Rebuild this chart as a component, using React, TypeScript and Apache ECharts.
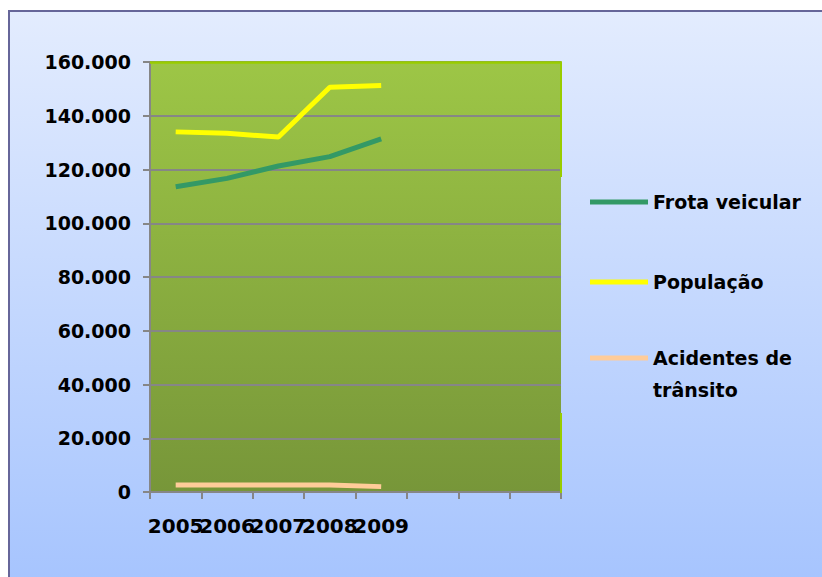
import React, { useEffect, useRef } from "react";
import * as echarts from "echarts";

const categories = ["2005", "2006", "2007", "2008", "2009", "", "", ""];
const frotaVeicular = [113600, 116700, 121300, 124800, 131400];
const populacao = [134000, 133450, 132100, 150600, 151300];
const acidentes = [2600, 2650, 2650, 2600, 2000];
const yTicks = { min: 0, max: 160000, interval: 20000 };

const FONT = "DejaVu Sans";

export default function App() {
  const ref = useRef<HTMLDivElement>(null);
  useEffect(() => {
    document.body.style.margin = "0";
    const chart = echarts.init(ref.current!, null, { renderer: "svg" });
    const lineLegend = (name: string, top: number, formatter?: any) => ({
      orient: "vertical",
      left: 590,
      top,
      padding: 0,
      data: [name],
      icon: "rect",
      itemWidth: 58,
      itemHeight: 5,
      itemGap: 0,
      textStyle: { fontFamily: FONT, fontWeight: "bold", fontSize: 19, color: "#000", lineHeight: 32 },
      formatter,
    });
    chart.setOption({
      animation: false,
      backgroundColor: "#ffffff",
      grid: {
        left: 150,
        top: 62,
        width: 411,
        height: 430,
        show: true,
        borderWidth: 0,
        backgroundColor: new echarts.graphic.LinearGradient(0, 0, 0, 1, [
          { offset: 0, color: "#9DC646" },
          { offset: 1, color: "#779639" },
        ]),
      },
      graphic: [
        {
          type: "rect",
          z: -10,
          shape: { x: 9, y: 11, width: 900, height: 700 },
          style: {
            fill: new echarts.graphic.LinearGradient(0, 0, 0, 1, [
              { offset: 0, color: "#E3ECFE" },
              { offset: 0.82, color: "#A6C4FE" },
              { offset: 1, color: "#A6C4FE" },
            ]),
            stroke: "#666699",
            lineWidth: 2,
          },
        },
        { type: "line", z: 50, shape: { x1: 150, y1: 62.5, x2: 562, y2: 62.5 }, style: { stroke: "#99CC00", lineWidth: 2.5 } },
        { type: "line", z: 50, shape: { x1: 561, y1: 62, x2: 561, y2: 177 }, style: { stroke: "#99CC00", lineWidth: 2 } },
        { type: "line", z: 50, shape: { x1: 561, y1: 413, x2: 561, y2: 493 }, style: { stroke: "#99CC00", lineWidth: 2 } },
      ],
      legend: [
        lineLegend("Frota veicular", 186),
        lineLegend("População", 266),
        lineLegend("Acidentes de trânsito", 310, () => " \nAcidentes de\ntrânsito"),
      ],
      xAxis: {
        type: "category",
        data: categories,
        boundaryGap: true,
        axisLine: { show: true, lineStyle: { color: "#868686", width: 2 } },
        axisTick: { show: true, length: 7, interval: 0, lineStyle: { color: "#868686", width: 2 } },
        axisLabel: {
          interval: 0,
          margin: 24,
          fontFamily: FONT,
          fontWeight: "bold",
          fontSize: 20,
          color: "#000",
        },
        splitLine: { show: false },
      },
      yAxis: {
        type: "value",
        min: yTicks.min,
        max: yTicks.max,
        interval: yTicks.interval,
        axisLine: { show: true, lineStyle: { color: "#868686", width: 2 } },
        axisTick: { show: true, length: 7, lineStyle: { color: "#868686", width: 2 } },
        axisLabel: {
          margin: 19,
          fontFamily: FONT,
          fontWeight: "bold",
          fontSize: 19,
          color: "#000",
          formatter: (v: number) => (v === 0 ? "0" : (v / 1000).toFixed(0) + ".000"),
        },
        splitLine: { show: true, lineStyle: { color: "#868686", width: 2 } },
      },
      series: [
        {
          name: "Frota veicular",
          type: "line",
          data: frotaVeicular,
          showSymbol: false,
          symbol: "none",
          color: "#339966",
          lineStyle: { color: "#339966", width: 5 },
          z: 3,
        },
        {
          name: "População",
          type: "line",
          data: populacao,
          showSymbol: false,
          symbol: "none",
          color: "#FFFF00",
          lineStyle: { color: "#FFFF00", width: 5 },
          z: 3,
        },
        {
          name: "Acidentes de trânsito",
          type: "line",
          data: acidentes,
          showSymbol: false,
          symbol: "none",
          color: "#FFCC99",
          lineStyle: { color: "#FFCC99", width: 5 },
          z: 3,
        },
      ],
    });
    return () => chart.dispose();
  }, []);
  return <div ref={ref} style={{ width: 822, height: 577 }} />;
}
